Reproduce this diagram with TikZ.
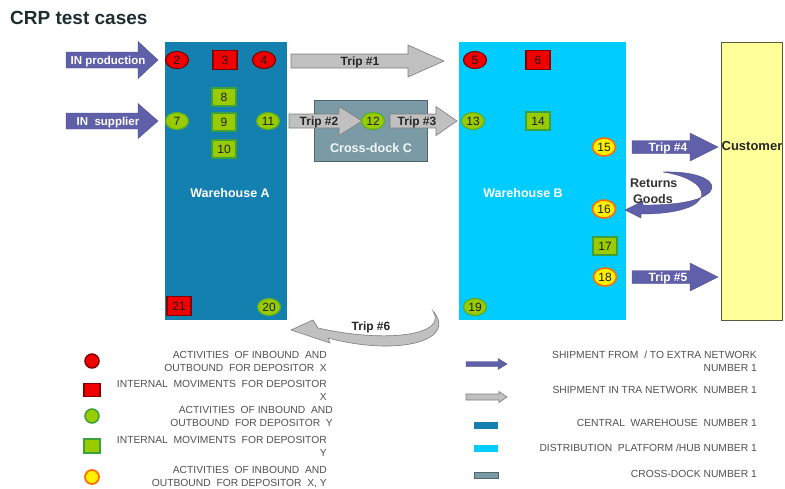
\documentclass[tikz,border=0pt]{standalone}
\usepackage{fontspec}
\setmainfont{Liberation Sans}
\usetikzlibrary{shapes.geometric}
\definecolor{whA}{RGB}{20,128,176}
\definecolor{whB}{RGB}{0,204,255}
\definecolor{cdock}{RGB}{122,155,165}
\definecolor{cdockb}{RGB}{80,100,105}
\definecolor{barr}{RGB}{95,95,170}
\definecolor{garr}{RGB}{192,192,192}
\definecolor{garrb}{RGB}{125,125,125}
\definecolor{redf}{RGB}{240,0,0}
\definecolor{redb}{RGB}{130,0,0}
\definecolor{grnf}{RGB}{153,204,0}
\definecolor{grnb}{RGB}{60,160,60}
\definecolor{orgb}{RGB}{255,110,0}
\definecolor{yelf}{RGB}{255,240,0}
\definecolor{custf}{RGB}{255,255,153}
\definecolor{custb}{RGB}{90,90,60}
\definecolor{ttl}{RGB}{30,45,50}
\definecolor{legt}{RGB}{80,80,80}
\definecolor{numt}{RGB}{30,30,30}
\newcommand{\fs}[2]{\fontsize{#1}{#2}\selectfont}
% block arrow: name, x1, headstart, tip, yc, body half, head half, style
\newcommand{\blockarr}[8]{%
  \path[#8] (#2,#5-#6) -- (#3,#5-#6) -- (#3,#5-#7) -- (#4,#5) -- (#3,#5+#7) -- (#3,#5+#6) -- (#2,#5+#6) -- cycle;
  \coordinate (#1) at ({(#2+#3)/2},#5);}
\tikzset{
  numfont/.style={font=\fs{12}{12},text=numt},
  redell/.style={ellipse,draw=redb,fill=redf,line width=1.2pt,minimum width=23pt,minimum height=17pt,inner sep=0pt,numfont},
  redsq/.style={rectangle,draw=redb,fill=redf,line width=1.2pt,minimum width=24pt,minimum height=19pt,inner sep=0pt,numfont},
  grnell/.style={ellipse,draw=grnb!70!grnf,fill=grnf,line width=1.2pt,minimum width=23pt,minimum height=17pt,inner sep=0pt,numfont},
  grnsq/.style={rectangle,draw=grnb,fill=grnf,line width=1.2pt,minimum width=24pt,minimum height=18pt,inner sep=0pt,numfont},
  orgell/.style={ellipse,draw=orgb,fill=yelf,line width=1.6pt,minimum width=23pt,minimum height=18pt,inner sep=0pt,numfont},
  bluearr/.style={fill=barr,draw=barr!80!black,line width=0.4pt},
  grayarr/.style={fill=garr,draw=garrb,line width=0.6pt},
  arrlab/.style={font=\bfseries\fs{11.5}{12},text=white,inner sep=0pt},
  tripw/.style={font=\bfseries\fs{12}{12},text=white,inner sep=0pt},
  triplab/.style={font=\bfseries\fs{12}{12},text=black!85,inner sep=0pt},
  whlab/.style={font=\bfseries\fs{12.5}{13},text=white,inner sep=0pt},
  legtxt/.style={font=\fs{10.3}{13},text=legt,align=right,anchor=east,inner sep=0pt},
}
\begin{document}
\begin{tikzpicture}[x=1pt,y=-1pt]
\useasboundingbox (0,0) rectangle (785,488);
\fill[white] (0,0) rectangle (785,488);
% title
\node[anchor=west,font=\bfseries\fs{19}{20},text=ttl,inner sep=0pt] (title) at (10,18) {CRP test cases};
% main boxes
\fill[whA] (165,42) rectangle (287,320);
\node[whlab] (whAlab) at (230,193) {Warehouse A};
\fill[whB] (459,42) rectangle (626,320);
\node[whlab] (whBlab) at (523,193) {Warehouse B};
\draw[fill=custf,draw=custb,line width=0.8pt] (721,42) rectangle (782,320);
\node[font=\bfseries\fs{13}{13},text=black!85,inner sep=0pt] (cust) at (752,146) {Customer};
\draw[fill=cdock,draw=cdockb,line width=0.8pt] (314,100) rectangle (427,161);
\node[font=\bfseries\fs{12.6}{13},text=white!92!cdock,inner sep=0pt] (cdlab) at (371,148) {Cross-dock C};
% inbound arrows
\blockarr{inp}{66}{138}{158}{60}{8}{18.5}{bluearr}
\node[arrlab] (inplab) at (108,61.5) {IN production};
\blockarr{insu}{66}{138}{158}{121}{8}{17.5}{bluearr}
\node[arrlab] (insulab) at (108,122.5) {IN\ \ supplier};
% trips
\blockarr{t1}{291}{408}{444}{61}{7}{16}{grayarr}
\node[triplab] (t1lab) at (360,62.5) {Trip \#1};
\blockarr{t2}{289}{339}{362}{121}{7}{14.5}{grayarr}
\node[triplab] (t2lab) at (319,122.5) {Trip \#2};
\blockarr{t3}{390}{436}{457}{121}{7}{14.5}{grayarr}
\node[triplab] (t3lab) at (417,122.5) {Trip \#3};
\blockarr{t4}{632}{690}{718}{147}{6.5}{14}{bluearr}
\node[tripw] (t4lab) at (668,148.5) {Trip \#4};
\blockarr{t5}{632}{690}{718}{277}{6.5}{14}{bluearr}
\node[tripw] (t5lab) at (668,278.5) {Trip \#5};
% returns goods curved arrow
\path[bluearr] (663,172) .. controls (728,170) and (735,206) .. (643,205) -- (643,201) -- (625,210) -- (641,218) -- (641,214) .. controls (720,214) and (716,180) .. (663,172) -- cycle;
\node[font=\bfseries\fs{12.5}{16},text=black!80,anchor=north west,align=left,inner sep=0pt] (ret) at (630,179) {Returns\\\hspace*{3pt}Goods};
% trip 6 curved arrow
\path[grayarr] (433,311) .. controls (458,340) and (400,357) .. (328,338) -- (330,343) -- (291,330) -- (313,320) -- (318,328) .. controls (390,344) and (448,334) .. (433,311) -- cycle;
\node[triplab] (t6lab) at (371,327.5) {Trip \#6};
% warehouse A items
\node[redell] (n2) at (177,60) {2};
\node[redsq] (n3) at (225,60) {3};
\node[redell] (n4) at (264,60) {4};
\node[grnsq] (n8) at (224,97) {8};
\node[grnell] (n7) at (177,121) {7};
\node[grnsq] (n9) at (224,122) {9};
\node[grnell] (n11) at (268,121) {11};
\node[grnsq] (n10) at (224,149) {10};
\node[redsq] (n21) at (179,306) {21};
\node[grnell] (n20) at (269,307) {20};
% cross-dock item
\node[grnell] (n12) at (373,121) {12};
% warehouse B items
\node[redell] (n5) at (475,60) {5};
\node[redsq] (n6) at (538,60) {6};
\node[grnell] (n13) at (473,121) {13};
\node[grnsq] (n14) at (538,121) {14};
\node[orgell] (n15) at (604,147) {15};
\node[orgell] (n16) at (604,209) {16};
\node[grnsq] (n17) at (605,246) {17};
\node[orgell] (n18) at (605,277) {18};
\node[grnell] (n19) at (475,307) {19};
% legend left
\node[circle,draw=redb,fill=redf,line width=1.5pt,minimum size=14pt,inner sep=0pt] (l1) at (92,361) {};
\node[legtxt] (l1t) at (327,361) {ACTIVITIES\ \ OF INBOUND\ \ AND\\OUTBOUND\ \ FOR DEPOSITOR\ \ X};
\node[rectangle,draw=redb,fill=redf,line width=1.5pt,minimum width=16pt,minimum height=13pt,inner sep=0pt] (l2) at (92,390) {};
\node[legtxt] (l2t) at (327,390) {INTERNAL\ \ MOVIMENTS\ \ FOR DEPOSITOR\\X};
\node[circle,draw=grnb,fill=grnf,line width=1.5pt,minimum size=14pt,inner sep=0pt] (l3) at (92,416) {};
\node[legtxt] (l3t) at (333,416) {ACTIVITIES\ \ OF INBOUND\ \ AND\\OUTBOUND\ \ FOR DEPOSITOR\ \ Y};
\node[rectangle,draw=grnb,fill=grnf,line width=1.5pt,minimum width=16pt,minimum height=14pt,inner sep=0pt] (l4) at (92,446) {};
\node[legtxt] (l4t) at (327,446) {INTERNAL\ \ MOVIMENTS\ \ FOR DEPOSITOR\\Y};
\node[circle,draw=orgb,fill=yelf,line width=1.8pt,minimum size=14pt,inner sep=0pt] (l5) at (92,477) {};
\node[legtxt] (l5t) at (327,477) {ACTIVITIES\ \ OF INBOUND\ \ AND\\OUTBOUND\ \ FOR DEPOSITOR\ \ X, Y};
% legend right
\blockarr{lb}{466}{498}{507}{364}{2.5}{5.5}{bluearr}
\node[legtxt] (l6t) at (757,361) {SHIPMENT FROM\ \ / TO EXTRA NETWORK\\NUMBER 1};
\blockarr{lg}{466}{499}{507}{397}{3}{5.5}{grayarr}
\node[legtxt] (l7t) at (757,390) {SHIPMENT IN TRA NETWORK\ \ NUMBER 1};
\fill[whA] (474,422) rectangle (498,429);
\node[legtxt] (l8t) at (757,423) {CENTRAL\ \ WAREHOUSE\ \ NUMBER 1};
\fill[whB] (474,445) rectangle (498,452);
\node[legtxt] (l9t) at (757,448) {DISTRIBUTION\ \ PLATFORM /HUB NUMBER 1};
\draw[fill=cdock,draw=cdockb,line width=0.6pt] (474,472) rectangle (498,478);
\node[legtxt] (l10t) at (757,474) {CROSS-DOCK NUMBER 1};
\end{tikzpicture}
\end{document}
